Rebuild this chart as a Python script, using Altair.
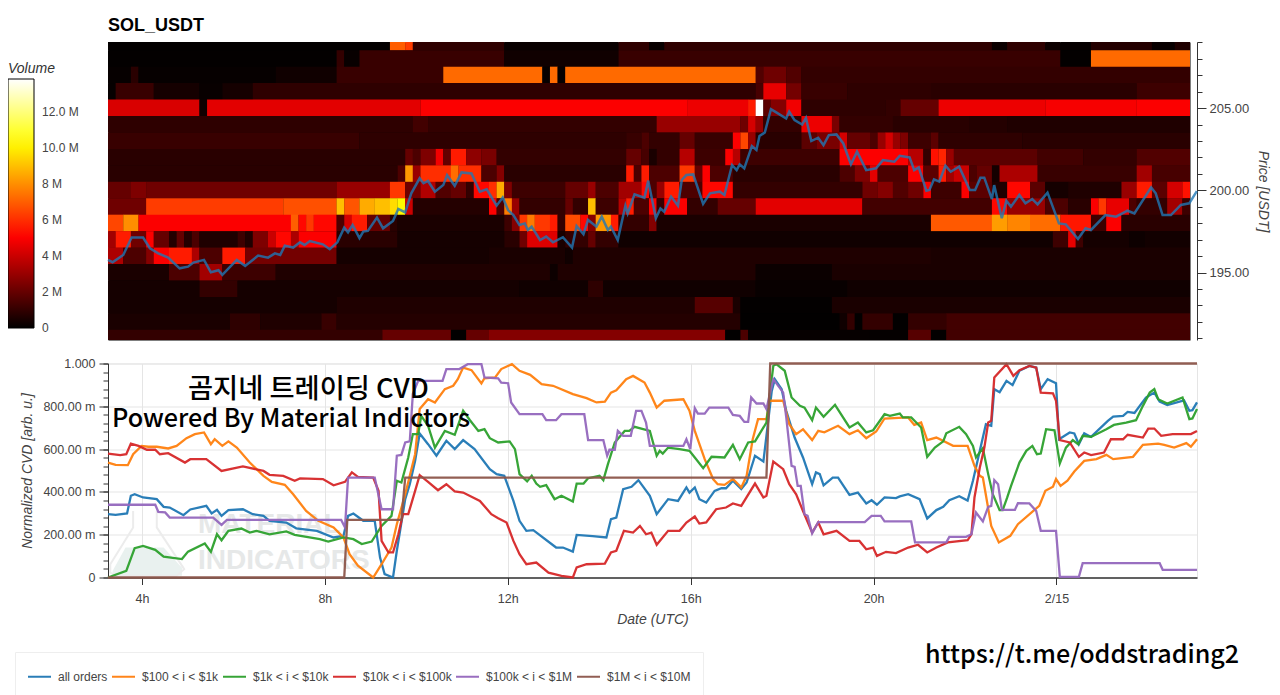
import altair as alt
import pandas as pd

T0 = 3.257
STEP = 1 / 6
N_COLS = 142

# Heatmap: (first column of a run, volume in millions) per price level
H = {
209: [(0,.05),(37,7),(39,6.3),(40,.9),(52,.15),(67,.9),(71,.15),(73,.9),(116,.2),(118,.9),(123,.25),(125,.1),(129,.7),(137,.15),(140,.6)],
208: [(0,.05),(30,1.0),(31,.15),(33,1.1),(52,.3),(67,1.1),(125,.05),(129,7.25)],
207: [(0,.1),(3,.8),(4,.1),(22,.3),(30,1.1),(44,7.25),(57,.1),(58,7.25),(59,.1),(60,7.25),(85,1.6),(86,2.2),(89,1.6),(91,1.0)],
206: [(0,.1),(1,1.1),(6,.4),(12,.15),(15,.4),(19,.9),(85,1.4),(86,4.6),(89,2.3),(91,1.1),(97,.9),(108,.8),(135,1.2)],
205: [(0,4.3),(12,.3),(13,4.5),(41,5.0),(76,4.7),(84,5.6),(85,13.85),(86,1.8),(87,2.6),(89,4.8),(91,.9),(102,1.0),(104,2.0),(109,4.7),(123,4.9),(135,5.0)],
204: [(0,.9),(40,1.3),(42,1.0),(72,3.0),(83,2.2),(84,4.2),(85,3.0),(86,1.0),(91,4.7),(95,2.4),(96,1.0),(103,.8),(113,.7),(118,.6)],
203: [(0,1.1),(33,.9),(68,1.1),(70,1.5),(71,1.0),(75,2.0),(77,1.1),(82,5.0),(83,6.5),(84,3.0),(85,.8),(91,1.8),(93,2.4),(96,4.2),(97,2.0),(100,1.5),(101,3.0),(102,4.2),(103,3.0),(104,2.5),(105,1.2),(108,1.8),(109,.9),(120,.8)],
202: [(0,.8),(39,2.0),(40,1.5),(41,2.5),(43,4.8),(44,2.0),(45,5.6),(47,2.8),(49,2.4),(51,1.0),(68,2.0),(70,1.4),(71,.5),(72,1.0),(75,3.6),(77,1.2),(81,5.0),(82,3.6),(83,1.2),(96,5.0),(105,3.6),(107,1.0),(108,5.4),(109,5.8),(110,3.0),(111,1.8),(122,1.3),(128,1.0),(135,1.6)],
201: [(0,.8),(38,1.5),(39,8.2),(40,3.0),(41,6.0),(45,7.3),(46,6.0),(49,1.5),(51,2.6),(52,.8),(68,5.6),(69,1.5),(70,5.6),(71,1.5),(75,6.2),(77,2.0),(78,5.0),(79,1.5),(82,.8),(96,1.5),(98,2.5),(100,4.5),(101,1.5),(105,5.0),(107,1.8),(109,5.6),(110,3.2),(111,4.0),(113,1.5),(114,2.0),(116,.4),(117,3.4),(122,1.1),(135,3.2),(137,1.4)],
200: [(0,2.0),(3,2.5),(5,2.2),(30,3.0),(37,6.2),(39,2.2),(41,3.5),(43,1.6),(45,2.0),(47,1.0),(48,5.2),(50,6.0),(51,8.6),(52,2.5),(53,1.2),(60,2.0),(63,3.0),(64,1.5),(67,3.2),(70,5.2),(71,1.5),(72,3.0),(73,5.6),(75,1.5),(78,5.2),(82,1.0),(99,2.2),(101,2.6),(103,1.6),(105,2.2),(107,5.0),(108,1.2),(112,5.0),(113,1.8),(116,.6),(118,5.2),(121,1.8),(123,.4),(126,.6),(133,3.0),(135,5.6),(137,1.8),(139,4.2),(141,5.4)],
199: [(0,2.2),(5,6.3),(23,6.7),(30,9.0),(31,6.8),(33,8.6),(35,9.0),(37,9.6),(38,10.2),(39,4.0),(40,.7),(50,5.0),(51,1.5),(52,7.6),(53,3.0),(54,1.0),(60,2.0),(61,1.0),(63,9.0),(64,1.2),(67,3.6),(68,5.6),(69,1.5),(71,5.0),(72,1.0),(73,5.0),(76,1.0),(80,2.0),(85,4.5),(99,1.3),(116,5.2),(118,3.0),(123,1.5),(126,.8),(129,5.0),(130,6.2),(131,4.6),(134,1.5),(135,1.0),(139,3.2),(141,1.2)],
198: [(0,6.5),(2,8.0),(4,5.0),(24,7.0),(25,5.2),(26,6.2),(27,5.2),(30,1.5),(31,4.2),(32,5.6),(34,2.0),(37,.8),(38,.5),(52,1.2),(53,2.6),(54,6.2),(55,7.6),(56,6.2),(58,5.6),(59,1.0),(60,6.6),(62,5.2),(63,2.6),(64,8.2),(66,5.6),(67,1.0),(71,2.6),(72,.5),(108,6.9),(116,8.3),(118,7.8),(121,7.3),(125,5.5),(129,1.2),(131,5.0),(133,.8)],
197: [(0,3.2),(1,5.6),(3,2.2),(5,5.0),(6,2.0),(8,.7),(9,2.0),(10,.7),(11,1.5),(12,.6),(17,1.2),(18,.6),(19,2.5),(21,4.0),(22,5.2),(24,3.4),(25,5.0),(30,.8),(38,.4),(52,.8),(54,2.2),(55,4.4),(59,.5),(60,1.0),(63,2.0),(64,1.0),(67,.3),(124,1.2),(126,4.6),(127,1.2),(128,.4),(134,.25),(136,.35)],
196: [(0,3.4),(2,1.5),(5,2.6),(6,5.0),(8,5.6),(11,3.4),(12,1.5),(15,5.6),(18,2.3),(30,.4),(50,.5),(60,.3),(61,.6),(108,.5)],
195: [(0,.5),(8,1.5),(12,3.2),(15,1.2),(22,.6),(58,.25),(59,.6),(85,.2),(95,.5)],
194: [(0,.4),(12,1.0),(17,.4),(54,.3),(63,.9),(65,.3),(85,.15),(97,.3)],
193: [(0,.4),(30,.6),(77,1.7),(82,.5),(83,.05),(95,.5)],
192: [(0,.5),(16,.9),(20,.6),(28,1.1),(30,.7),(83,.03),(96,.3),(97,1.0),(98,.03),(99,1.0),(103,.03),(105,1.0),(110,1.3)],
191: [(0,1.0),(36,2.0),(45,.02),(47,2.0),(50,2.6),(81,.02),(83,1.5),(84,.1),(100,.08),(105,1.7),(108,.05),(110,1.3)],
}

# Price line knots: (column position, USDT)
PRICE = [(0,195.77),(.6,195.63),(2,196.07),(3.1,197.13),(4.6,197.13),(5.5,196.48),(6.6,196.17),(7.9,195.91),(9.4,195.26),(10.5,195.36),(11.2,195.61),(12.6,195.77),(13.5,195.02),(14.5,195.14),(15,194.86),(16.9,195.77),(18,195.4),(19.7,196.03),(21,195.91),(21.9,196.17),(22.6,196.07),(23.2,196.64),(24.3,196.52),(25.2,196.84),(25.8,196.68),(26.5,196.92),(28.2,196.72),(29.1,196.42),(30.1,196.84),(31,197.73),(31.5,197.45),(32.1,197.89),(33,197.09),(33.5,197.49),(34.1,197.53),(35.3,198.34),(36.1,197.69),(37.4,198.14),(38.1,198.87),(39,198.66),(39.8,199.82),(40.9,200.73),(41.4,200.43),(42,200.57),(42.9,199.92),(44,200.32),(44.5,200.93),(45.5,200.28),(46.4,201.09),(47.7,201.03),(48.8,199.92),(49.7,200.06),(51,199.07),(51.8,199.57),(52.5,198.8),(53.2,198.5),(54,197.89),(54.7,197.99),(55.1,197.59),(55.6,197.79),(56.7,196.98),(57.5,197.19),(58.4,196.84),(59.7,197.15),(60.9,196.52),(61.5,197.83),(62.4,197.33),(63,198.2),(64.1,197.79),(64.8,198.4),(65.6,197.59),(66,197.79),(66.9,196.98),(67.9,199.07),(68.2,198.6),(69.1,199.76),(70.4,199.55),(70.9,200.59),(71.9,198.3),(72.5,198.9),(73,198.7),(73.9,199.62),(74.8,199.07),(75.3,200.63),(75.9,200.93),(76.8,200.97),(78.1,199.17),(79,199.82),(80.3,199.92),(80.9,199.72),(81.9,201.54),(82.5,201.23),(82.9,201.58),(83.5,201.34),(84.5,202.69),(85.1,202.45),(85.5,203.3),(86.2,203.52),(87,204.94),(87.7,204.74),(89,204.37),(89.4,204.78),(90.1,204.27),(91.1,204),(91.6,204.41),(92.3,203),(93.2,203.2),(93.9,202.75),(94.6,203.36),(95.6,203.4),(96.5,202.85),(97.5,201.58),(98.3,202.35),(99.5,201.23),(100.8,201.34),(101.7,201.84),(103.2,201.74),(103.9,202.1),(105.2,202),(105.8,201.23),(106.4,201.4),(107.4,199.98),(107.8,200.02),(108.4,200.67),(109.1,200.53),(109.9,201.5),(110.6,201.13),(111.7,201.44),(113.1,200.02),(113.8,200.02),(114.5,200.77),(115,200.77),(116,199.47),(116.3,200.32),(117.3,198.3),(117.9,199.37),(118.5,199.01),(119.6,199.72),(120.4,199.21),(121.3,199.47),(122,199.15),(123.3,199.86),(124.8,197.99),(125.7,197.93),(127.3,197.04),(128.3,197.69),(129,197.59),(130.9,198.5),(132.3,198.4),(133.8,198.76),(134.7,198.6),(136.9,200.18),(137.5,199.82),(138.4,198.5),(139.5,198.5),(140.8,199.11),(141.9,199.21),(142.9,199.95)]

# CVD knots: (column position, value in milli-units)
ALL_ORDERS = [(0,296),(1,293),(2.5,299),(3,382),(3.5,389),(4.6,374),(6.4,366),(7.3,330),(8.1,327),(9.9,291),(10.8,318),(12.9,335),(13.6,299),(14.3,316),(14.9,288),(15.8,315),(17.7,319),(19,296),(20.4,288),(21.2,265),(23.4,257),(24.7,230),(27.4,218),(29.6,187),(30.9,195),(31.5,288),(32.2,299),(33.5,265),(35,265),(35.7,93),(36.3,16),(37.4,0),(37.9,125),(39,366),(39.6,436),(40.3,545),(40.9,673),(42,623),(43.1,569),(44.4,639),(45.5,600),(46.6,642),(48.1,600),(50.1,506),(51,483),(52,475),(53.2,358),(54,265),(54.9,218),(55.8,221),(58.8,140),(59.7,140),(61,121),(61.5,199),(63.6,193),(65.4,187),(66,273),(66.7,280),(67.6,413),(68.7,424),(69.6,455),(71.1,382),(72,296),(73.5,366),(74.8,358),(75.9,421),(76.3,397),(77,421),(77.6,366),(78.5,350),(79.6,405),(80.5,417),(81.1,417),(82,452),(83.1,413),(83.8,444),(84.9,569),(86,542),(87.1,872),(87.5,927),(88.4,880),(89,779),(90.1,654),(91.2,561),(92.4,436),(92.9,491),(93.4,483),(93.9,431),(95.1,467),(95.8,467),(97.3,386),(98.4,397),(99.5,346),(100.2,361),(100.9,340),(101.9,374),(103.4,371),(103.9,379),(105,389),(106.5,366),(107.5,276),(108.7,315),(109.6,330),(110.4,361),(111.7,380),(112.8,360),(113.5,452),(114.4,592),(115.2,716),(115.9,709),(116.3,880),(117,866),(117.9,919),(118.7,899),(119.6,966),(120.9,989),(121.8,981),(122.4,880),(123.3,927),(124.4,908),(124.8,646),(126.2,678),(126.8,673),(127.4,623),(128.1,674),(129,657),(131.2,732),(131.9,752),(133.2,755),(133.8,774),(134.7,769),(136.2,841),(137.3,864),(138,822),(139,806),(141.2,828),(141.9,779),(142.3,782),(142.9,818)]
USD_100_1K = [(0,537),(1,526),(2.6,525),(3.3,576),(4.4,615),(5.3,611),(6.4,611),(7.9,603),(9,615),(10.3,651),(11.4,670),(12.6,678),(13.5,623),(14,646),(15,615),(15.8,636),(16.9,607),(18.6,537),(20.4,475),(21.5,447),(23.2,433),(24.3,389),(26,311),(27.6,265),(29.6,234),(30.9,187),(31.7,109),(32.8,55),(34.8,0),(35.9,62),(37.2,140),(37.9,249),(39,389),(40.3,576),(40.9,787),(42,833),(42.9,818),(44.2,880),(45.3,896),(45.9,927),(46.6,981),(47.7,969),(49,907),(49.4,931),(50.8,935),(51.6,974),(53,997),(54,966),(55.4,947),(56.9,903),(58.4,896),(61,857),(62.8,838),(64.1,818),(65.2,822),(66,864),(66.7,875),(68,927),(68.9,942),(70.4,911),(71.1,864),(72,794),(73,826),(75.5,833),(76.3,779),(77,685),(78.3,553),(79.4,460),(80,436),(80.9,433),(82,460),(83.1,421),(83.8,475),(84.6,646),(85.3,740),(86.4,740),(86.8,826),(88.6,826),(89.4,716),(90.3,670),(91.2,693),(92.4,642),(93.2,685),(94,678),(95.8,709),(97.3,670),(98.4,688),(99.5,651),(100.8,682),(101.9,743),(105,748),(105.8,713),(106.7,724),(107.5,642),(108.7,654),(110.9,615),(112.8,615),(113.7,522),(114.4,475),(114.8,467),(115.9,241),(116.9,164),(118.4,195),(119.4,249),(122.2,335),(123,405),(124,424),(124.4,460),(125,428),(125.9,452),(126.8,495),(128.1,545),(129.7,553),(131,573),(131.9,553),(134.5,564),(135.8,620),(137.8,626),(138.6,620),(139.9,607),(141.5,628),(142.1,611),(142.9,646)]
USD_1K_10K = [(0,0),(2.4,31),(3.5,137),(4.6,148),(6.2,129),(7.3,97),(9.7,86),(10.5,121),(12.7,159),(13.5,120),(14.3,202),(14.9,174),(15.8,218),(17.5,229),(18.6,210),(19.5,218),(21.2,202),(23.4,215),(24.5,199),(27.8,179),(28.9,168),(30.9,187),(32.2,179),(33.3,156),(34.6,168),(35.9,241),(37.2,288),(37.9,452),(38.5,444),(39.4,561),(40,670),(40.7,670),(41.1,755),(42,709),(42.9,607),(44.2,685),(45.5,667),(46.6,779),(47.5,735),(48.6,685),(49.4,693),(50.1,651),(51.2,631),(52.7,636),(53.4,600),(54,483),(55,449),(55.6,475),(56.2,439),(56.7,424),(57.5,432),(58.6,366),(59.5,382),(61,355),(61.5,439),(62.4,439),(63,464),(64.5,475),(65,455),(65.6,530),(66.5,631),(67.8,685),(68.4,685),(69.1,704),(71.1,685),(72,569),(72.4,592),(72.8,579),(73.5,607),(75,600),(76.3,592),(77,561),(78.1,511),(79.2,564),(80.9,561),(82,620),(82.9,553),(84,631),(84.9,636),(86.4,724),(87.3,989),(87.7,997),(88.8,966),(89.7,841),(90.8,802),(91.4,794),(92.4,735),(92.9,794),(93.9,751),(95.4,807),(97.3,701),(98.4,724),(99.5,678),(100.4,688),(101.9,763),(102.6,755),(103.9,766),(104.3,748),(105.4,748),(106.7,701),(107.5,564),(108.5,607),(109.6,636),(110,674),(111.7,704),(112.6,670),(113.5,615),(113.9,561),(114.8,604),(115.5,483),(116.1,389),(117,315),(117.4,315),(118,374),(118.5,428),(119.6,537),(120.5,592),(121.3,615),(121.9,576),(122.4,579),(123.1,693),(124.2,688),(124.9,533),(125.7,607),(126.6,642),(127.3,623),(127.9,662),(129,657),(131,693),(132,713),(133.6,724),(134.9,735),(135.8,802),(136.7,864),(137.3,880),(137.8,833),(139,813),(141,841),(141.9,740),(142.3,743),(142.9,787)]
USD_10K_100K = [(0,579),(1.6,572),(2.4,576),(3,626),(4,615),(5.1,597),(6.2,597),(6.8,576),(7.9,581),(10.1,537),(10.8,553),(12.9,553),(14.9,498),(17.7,519),(20.4,498),(21.2,480),(23,475),(24.5,452),(25.2,463),(28.2,460),(29.6,431),(31.1,447),(32,491),(32.8,470),(34.8,467),(35.5,405),(35.9,171),(36.8,117),(37.4,117),(38.1,202),(38.7,296),(39.4,296),(40.3,405),(40.9,478),(42,447),(43.3,408),(44.4,436),(45.5,402),(46.6,397),(48.8,358),(50.3,296),(51.2,277),(52.3,257),(53.2,171),(54,109),(54.9,62),(56.2,70),(57.8,23),(59.5,8),(61,0),(61.5,47),(62.8,62),(65.2,65),(66,117),(66.7,125),(67.7,218),(68.9,210),(69.8,241),(70.6,202),(71.3,210),(72,153),(73.5,218),(75,218),(75.9,257),(77,285),(77.6,252),(78.5,257),(79.8,319),(81.1,327),(82,346),(83.1,335),(84.9,439),(86,374),(86.4,382),(87.3,542),(88.6,506),(89.4,436),(90.3,389),(91.2,311),(92.4,210),(93.2,257),(93.9,202),(95.6,218),(97.3,171),(98.6,171),(99.5,132),(100.4,140),(100.9,101),(102.1,120),(103.4,114),(105,140),(106.3,153),(107.5,117),(108.7,140),(110.2,164),(112.8,174),(113.3,202),(113.7,374),(114.4,514),(115,607),(115.5,724),(115.9,732),(116.3,935),(117.9,997),(118.8,942),(119.6,969),(120.9,989),(121.8,981),(122.4,864),(124,861),(124.4,825),(124.9,642),(126.2,631),(127.4,564),(128.1,584),(129,572),(130.7,584),(131.6,646),(133.2,646),(133.8,667),(135.8,654),(136.5,696),(137.3,696),(138.2,662),(139.7,670),(142.1,670),(142.9,685)]
USD_100K_1M = [(0,340),(6.2,340),(6.6,307),(7.5,304),(8.1,280),(13.8,280),(14.9,246),(15.6,269),(30.6,269),(31.1,234),(31.5,467),(35,467),(35.9,319),(37.4,319),(37.9,569),(38.5,573),(39,631),(39.6,636),(40,857),(40.7,919),(43.9,919),(44.4,974),(46.1,974),(47.2,997),(49,997),(49.4,935),(51.2,931),(51.6,911),(52.5,908),(52.9,818),(54,763),(57,763),(57.5,735),(58.8,735),(59.5,763),(62.5,763),(63,642),(65,642),(65.5,569),(65.8,597),(66.5,597),(66.9,685),(67.6,662),(68.6,662),(69.3,779),(70,779),(70.6,724),(71.1,615),(75.5,615),(75.9,646),(76.4,600),(77,791),(77.4,766),(78.3,766),(78.9,794),(81.4,794),(82,760),(82.9,755),(83.5,727),(84,727),(84.4,841),(85.1,813),(86,813),(86.4,787),(87.3,927),(88.6,864),(89,748),(89.7,522),(90.1,517),(90.5,428),(90.9,428),(91.4,296),(91.8,288),(92.4,206),(93.2,259),(99.3,259),(100.2,288),(101.4,288),(101.9,262),(105.4,262),(105.9,164),(110,164),(110.4,190),(112.6,190),(113.3,202),(113.9,304),(114.8,262),(115.5,330),(115.9,335),(116.3,455),(116.8,436),(117.3,316),(119,316),(119.4,347),(120.9,346),(121.8,311),(122.4,218),(124.4,218),(124.9,3),(127.4,3),(127.9,67),(138,67),(138.4,36),(142.9,36)]
USD_1M_10M = [(0,0),(31,0),(31.4,269),(38.5,269),(39,467),(86.4,467),(86.9,1000),(142.9,1000)]

SERIES = ["all orders", "$100 < i < $1k", "$1k < i < $10k", "$10k < i < $100k", "$100k < i < $1M", "$1M < i < $10M"]
COLORS = ["#1f77b4", "#ff7f0e", "#2ca02c", "#d62728", "#9467bd", "#8c564b"]
SERIES_DATA = [ALL_ORDERS, USD_100_1K, USD_1K_10K, USD_10K_100K, USD_100K_1M, USD_1M_10M]

FLASK = [(3.3,311),(3.3,234),(.3,62),(.3,23),(1.1,8),(9,8),(10,39),(6.4,234),(6.4,311)]
FLASK_LIQUID = [(.6,8,30),(2.3,8,140),(7.3,8,140),(9.7,8,45)]

MAJOR_PRICE = [195, 200, 205]
MINOR_PRICE = list(range(191, 210))
VOLUME_TICKS = [0, 2, 4, 6, 8, 10, 12]
CVD_TICKS = [0, 200, 400, 600, 800, 1000]
CVD_MINOR = list(range(0, 1001, 40))
HOUR_TICKS = [4, 8, 12, 16, 20, 24]


def hour(c):
    return T0 + c * STEP


rows = []
for price, runs in H.items():
    for i, (start, vol) in enumerate(runs):
        end = runs[i + 1][0] if i + 1 < len(runs) else N_COLS
        rows.append(dict(x=hour(start), x2=hour(end) + .004, y=price - .5, y2=price + .52, v=vol))
heat_df = pd.DataFrame(rows)
price_df = pd.DataFrame([dict(x=hour(c), y=p) for c, p in PRICE])
cvd_df = pd.DataFrame([dict(x=hour(c), y=v, s=s, o=i) for i, (s, d) in enumerate(zip(SERIES, SERIES_DATA)) for c, v in d])

TOP_W, TOP_H = 1082, 298
BOT_W, BOT_H = 1089, 214
top_x = alt.Scale(domain=[T0, hour(N_COLS)], nice=False, zero=False)
top_y = alt.Scale(domain=[190.9, 209.02], nice=False, zero=False)
bot_x = alt.Scale(domain=[T0, hour(142.9)], nice=False, zero=False)
bot_y = alt.Scale(domain=[0, 1000], nice=False)

vol_scale = alt.Scale(domain=[-.01, 5.05, 10.33, 13.85], range=["#000000", "#ff0000", "#ffff00", "#ffffff"], interpolate="rgb")

heat = alt.Chart(heat_df).mark_rect(clip=True).encode(
    x=alt.X("x:Q", scale=top_x, axis=None),
    x2="x2:Q",
    y=alt.Y("y:Q", scale=top_y, axis=alt.Axis(
        orient="right", offset=7, values=MAJOR_PRICE, format=".2f", grid=False,
        title="Price [USDT]", titleFontStyle="italic", titleFontWeight="normal", titleFontSize=14,
        titleColor="#444", titlePadding=7, labelFontSize=13, labelColor="#444",
        tickSize=9, tickColor="#333", domainColor="#333", labelPadding=3)),
    y2="y2:Q",
    color=alt.Color("v:Q", scale=vol_scale, legend=alt.Legend(
        type="gradient", orient="none", legendX=-100, legendY=20, direction="vertical", title="Volume",
        titleFontStyle="italic", titleFontWeight="normal", titleFontSize=14, titleColor="#333",
        titlePadding=3, gradientLength=249, gradientThickness=26, gradientStrokeColor="#000",
        gradientStrokeWidth=1, values=VOLUME_TICKS, labelFontSize=12, labelColor="#444",
        labelOffset=8, labelOverlap=False,
        labelExpr="datum.value==0?'0':(datum.value>=10?format(datum.value,'.1f'):format(datum.value,'d'))+' M'")),
)
price_line = alt.Chart(price_df).mark_line(color="#1f77b4", opacity=.8, strokeWidth=2.5).encode(
    x=alt.X("x:Q", scale=top_x, axis=None),
    y=alt.Y("y:Q", scale=top_y, axis=alt.Axis(
        orient="right", offset=7, values=MINOR_PRICE, labels=False, title=None, grid=False,
        domain=False, tickSize=5, tickColor="#333")),
)
top = alt.layer(heat, price_line).resolve_axis(y="independent").properties(
    width=TOP_W, height=TOP_H, view=alt.ViewConfig(fill="#000000", stroke="transparent"),
    title=alt.TitleParams("SOL_USDT", anchor="start", fontSize=18, fontWeight="bold", color="#000", offset=7, dx=5),
)

x_axis = alt.Axis(
    values=HOUR_TICKS, labelExpr="datum.value==24?'2/15':datum.value+'h'", title="Date (UTC)",
    titleFontStyle="italic", titleFontWeight="normal", titleFontSize=14, titleColor="#444",
    titlePadding=7, labelFontSize=12.5, labelColor="#444", labelPadding=8, tickSize=7,
    tickColor="#333", domainColor="#333", domainWidth=1.5, gridColor="#e5e5e5", grid=True)
X = alt.X("x:Q", scale=bot_x, axis=x_axis)

flask_line = alt.Chart(pd.DataFrame([dict(x=hour(c), y=v, o=i) for i, (c, v) in enumerate(FLASK)])).mark_line(color="#ececec", strokeWidth=2).encode(
    x=X, y=alt.Y("y:Q", scale=bot_y, axis=None), order="o:Q")
flask_fill = alt.Chart(pd.DataFrame([dict(x=hour(c), y=a, y2=b) for c, a, b in FLASK_LIQUID])).mark_area(color="#e9f1ef").encode(
    x=X, y=alt.Y("y:Q", scale=bot_y, axis=None), y2="y2:Q")

lines = alt.Chart(cvd_df).mark_line(strokeWidth=2.3, clip=False, opacity=.95).encode(
    x=X,
    y=alt.Y("y:Q", scale=bot_y, axis=alt.Axis(
        orient="left", values=CVD_TICKS, title="Normalized CVD [arb. u.]",
        labelExpr="datum.value==1000?'1.000':datum.value==0?'0':format(datum.value,'.2f')+' m'",
        titleFontStyle="italic", titleFontWeight="normal", titleFontSize=14, titleColor="#444",
        titlePadding=8, labelFontSize=12.5, labelColor="#444", labelPadding=4, tickSize=9,
        tickColor="#333", domainColor="#333", gridColor="#e5e5e5", grid=True)),
    color=alt.Color("s:N", scale=alt.Scale(domain=SERIES, range=COLORS), sort=SERIES, legend=alt.Legend(
        orient="none", legendX=-93, legendY=288.5, direction="horizontal", columns=6, title=None,
        symbolType="stroke", symbolSize=529, symbolStrokeWidth=2, labelFontSize=12, labelColor="#444",
        labelOffset=6, columnPadding=0, padding=12, strokeColor="#eeeeee", labelLimit=200)),
    detail="o:N",
)
minor_axis = alt.Chart(pd.DataFrame({"x": [T0], "y": [0]})).mark_point(opacity=0).encode(
    x=X,
    y=alt.Y("y:Q", scale=bot_y, axis=alt.Axis(
        orient="left", values=CVD_MINOR, labels=False, title=None, grid=False, domain=False,
        tickSize=5, tickColor="#333")),
)


def note(text, px, py, size, color="#000", font="Noto Sans CJK KR", weight=500):
    return alt.Chart(pd.DataFrame({"a": [0]})).mark_text(
        font=font, fontSize=size, align="left", baseline="middle", color=color, fontWeight=weight).encode(
        x=alt.value(px), y=alt.value(py), text=alt.value(text))


marks = [
    note("MATERIAL", 90, 161, 28, "#e6e8e8", "Liberation Sans", "bold"),
    note("INDICATORS", 90, 197, 28, "#e6e8e8", "Liberation Sans", "bold"),
]
notes = [
    note("곰지네 트레이딩 CVD", 80, 26, 27.3),
    note("Powered By Material Indictors", 4, 55.5, 25.2),
    note("https://t.me/oddstrading2", 817, 291, 25.1),
]
bottom = alt.layer(flask_fill, flask_line, *marks, lines, minor_axis, *notes).resolve_axis(y="independent").resolve_scale(color="independent").properties(
    width=BOT_W, height=BOT_H)

chart = alt.vconcat(top, bottom, spacing=15.5).properties(
    padding={"left": 0, "top": 8, "right": 0, "bottom": 0}
).configure(font="Liberation Sans").configure_view(stroke="#e5e5e5")
chart.save("out.html", embed_options={"renderer": "svg", "actions": False})
